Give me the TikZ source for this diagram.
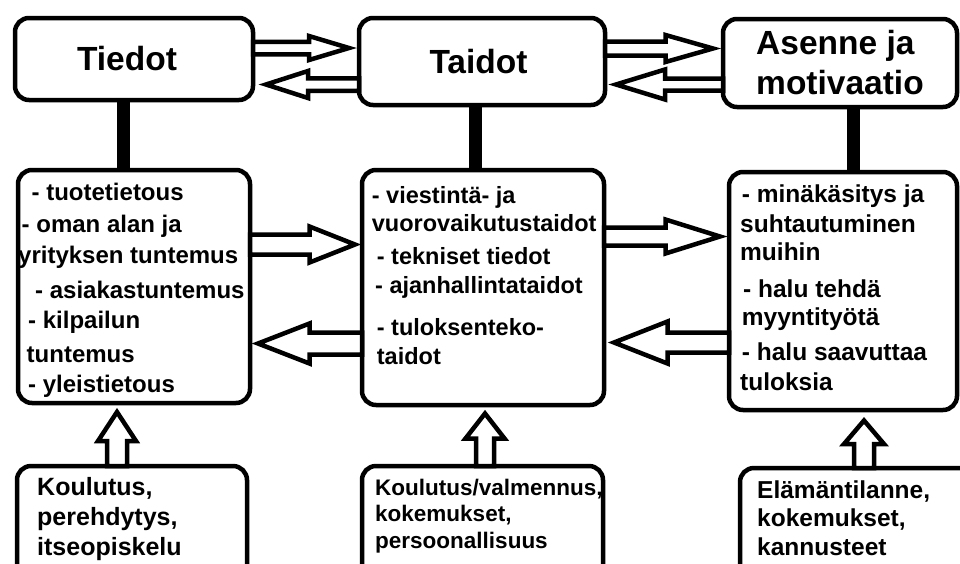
\documentclass[tikz,border=0pt]{standalone}
\usepackage{fontspec}
\setmainfont{Liberation Sans}
\usetikzlibrary{calc, positioning}

\tikzset{
    box/.style={draw, line width=4.5pt, rounded corners=14pt, inner sep=0pt, outer sep=0pt},
    title/.style={font=\fontsize{33.5}{40}\selectfont\bfseries, align=left},
    items/.style 2 args={inner sep=0pt, align=left, font=\fontsize{#1}{#2}\selectfont\bfseries},
    bar/.style={line width=13pt},
    blockarrow/.style n args={3}{draw, fill=white, line width=4.5pt, line join=miter,
        to path={let \p1=(\tikztostart), \p2=(\tikztotarget), \p3=($(\p2)!#3!(\p1)$) in
            ($(\p1)!#1!90:(\p2)$) -- ($(\p3)!#1!90:(\p2)$) -- ($(\p3)!#2!90:(\p2)$) -- (\p2)
            -- ($(\p3)!#2!-90:(\p2)$) -- ($(\p3)!#1!-90:(\p2)$) -- ($(\p1)!#1!-90:(\p2)$) -- cycle}}
}

\begin{document}
\begin{tikzpicture}[x=1pt, y=-1pt]
    \useasboundingbox (0,0) rectangle (960,563);
    \clip (0,0) rectangle (960,563);
    \fill[white] (0,0) rectangle (960,563);

    \node[box, title, minimum width=238pt, minimum height=82pt] (tiedot) at (134,59) {Tiedot\hspace*{14pt}};
    \node[box, title, minimum width=246pt, minimum height=87pt] (taidot) at (482,61.5) {Taidot\hspace*{7pt}};
    \node[box, title, minimum width=234pt, minimum height=88pt] (asenne) at (840,63) {Asenne ja\\motivaatio};

    \node[box, minimum width=232pt, minimum height=233pt] (tiedotlist) at (134,286.5) {};
    \node[box, minimum width=242pt, minimum height=235pt] (taidotlist) at (483,287.5) {};
    \node[box, minimum width=228pt, minimum height=238pt] (asennelist) at (843,291) {};

    \node[box, minimum width=230pt, minimum height=134pt] (tiedotsrc) at (132,533) {};
    \node[box, minimum width=241pt, minimum height=134pt] (taidotsrc) at (482.5,533) {};
    \node[box, minimum width=250pt, minimum height=132pt] (asennesrc) at (865,534) {};

    \node[items={24}{30}, below right=12.8pt and 0pt of tiedotlist.north west] (tiedotitems)
        {\hspace*{13.5pt}- tuotetietous\\[2pt] \hspace*{3.5pt}- oman alan ja\\[1pt] yrityksen tuntemus\\[5pt]
         \hspace*{17pt}- asiakastuntemus\\ \hspace*{10pt}- kilpailun\\[4pt] \hspace*{8.5pt}tuntemus\\
         \hspace*{10pt}- yleistietous};
    \node[items={23.5}{28}, below right=16.2pt and 9.7pt of taidotlist.north west] (taidotitems)
        {- viestintä- ja\\ vuorovaikutustaidot\\[5pt] \hspace*{5pt}- tekniset tiedot\\[1pt]
         \hspace*{3.3pt}- ajanhallintataidot\\[14pt] \hspace*{5pt}- tuloksenteko-\\[1pt] \hspace*{5pt}taidot};
    \node[items={24.5}{28}, below right=12.5pt and 11pt of asennelist.north west] (asenneitems)
        {\hspace*{1.7pt}- minäkäsitys ja\\[2pt] suhtautuminen\\ muihin\\[9pt] \hspace*{3pt}- halu tehdä\\
         \hspace*{1.7pt}myyntityötä\\[7pt] \hspace*{1.7pt}- halu saavuttaa\\[2pt] tuloksia};

    \node[items={25}{30}, below right=11pt and 20pt of tiedotsrc.north west] (tiedotsrctext)
        {Koulutus,\\ perehdytys,\\ itseopiskelu};
    \node[items={22.5}{26}, below right=12.6pt and 13pt of taidotsrc.north west] (taidotsrctext)
        {Koulutus/valmennus,\\ kokemukset,\\[1pt] persoonallisuus};
    \node[items={24.5}{28.5}, below right=12.5pt and 17pt of asennesrc.north west] (asennesrctext)
        {Elämäntilanne,\\ kokemukset,\\ kannusteet};

    \draw[bar] ($(tiedot.south)+(-10.5,0)$) -- ($(tiedotlist.north)+(-10.5,0)$);
    \draw[bar] ($(taidot.south)+(-7,0)$) -- ($(taidotlist.north)+(-8,0)$);
    \draw[bar] ($(asenne.south)+(13,0)$) -- ($(asennelist.north)+(10,0)$);

    \draw[blockarrow={6.25pt}{12pt}{40pt}] ($(tiedot.east)+(0,-11)$) to ($(taidot.west)+(-10,-13.5)$);
    \draw[blockarrow={6.25pt}{13.5pt}{42pt}] ($(taidot.west)+(0,23)$) to ($(tiedot.east)+(13,25.5)$);
    \draw[blockarrow={7pt}{13.5pt}{47.5pt}] ($(taidot.east)+(0,-13)$) to ($(asenne.west)+(-10,-14.5)$);
    \draw[blockarrow={6pt}{15pt}{49pt}] ($(asenne.west)+(0,21.5)$) to ($(taidot.east)+(11,23)$);

    \draw[blockarrow={10pt}{18pt}{45.5pt}] ($(tiedotlist.east)+(0,-42)$) to ($(taidotlist.west)+(-7,-43)$);
    \draw[blockarrow={11pt}{20pt}{51.5pt}] ($(taidotlist.west)+(0,56)$) to ($(tiedotlist.east)+(8,57)$);
    \draw[blockarrow={9pt}{17pt}{54.5pt}] ($(taidotlist.east)+(0,-51)$) to ($(asennelist.west)+(-9,-54.5)$);
    \draw[blockarrow={10pt}{21pt}{53.5pt}] ($(asennelist.west)+(0,51.5)$) to ($(taidotlist.east)+(10,55)$);

    \draw[blockarrow={10pt}{19pt}{29pt}] ($(tiedotsrc.north)+(-15,0)$) to ($(tiedotlist.south)+(-17,9)$);
    \draw[blockarrow={9pt}{19.5pt}{25pt}] ($(taidotsrc.north)+(2.5,0)$) to ($(taidotlist.south)+(2,8.5)$);
    \draw[blockarrow={10pt}{20pt}{23.5pt}] ($(asennesrc.north)+(-1,0)$) to ($(asennelist.south)+(21,10.5)$);
\end{tikzpicture}
\end{document}
